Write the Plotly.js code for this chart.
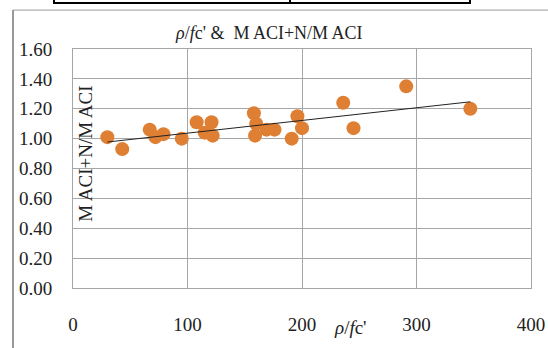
<!DOCTYPE html>
<html><head><meta charset="utf-8">
<script src="https://cdn.plot.ly/plotly-3.0.1.min.js"></script>
<style>html,body{margin:0;padding:0;background:#fff;}#c{width:548px;height:348px;}</style>
</head><body><div id="c"></div>
<script>
const xVals = [30, 43, 67, 72, 79, 95, 108, 115, 121, 122, 158, 160, 159, 169, 176, 191, 196, 200, 236, 245, 291, 347];
const yVals = [1.01, 0.93, 1.06, 1.01, 1.03, 1.00, 1.11, 1.04, 1.11, 1.02, 1.17, 1.10, 1.02, 1.06, 1.06, 1.00, 1.15, 1.07, 1.24, 1.07, 1.35, 1.20];
const yTicks = [0, 0.2, 0.4, 0.6, 0.8, 1.0, 1.2, 1.4, 1.6];
const yTickText = ["0.00","0.20","0.40","0.60","0.80","1.00","1.20","1.40","1.60"];
const xTicks = [0, 100, 200, 300, 400];
const chartTitle = "<i>ρ</i>/<i>f</i>c' &amp;  M ACI+N/M ACI";
const xTitle = "<i>ρ</i>/<i>f</i>c'";
const yTitle = "M ACI+N/M ACI";

// linear least-squares trendline from the data
const n = xVals.length;
const mx = xVals.reduce((a,b)=>a+b,0)/n, my = yVals.reduce((a,b)=>a+b,0)/n;
let sxy=0, sxx=0;
for(let i=0;i<n;i++){sxy+=(xVals[i]-mx)*(yVals[i]-my); sxx+=(xVals[i]-mx)**2;}
const slope = sxy/sxx, icpt = my - slope*mx;
const xMin = Math.min(...xVals), xMax = Math.max(...xVals);
const trendX = [xMin, xMax], trendY = trendX.map(x=>icpt+slope*x);

const serif = "Liberation Serif";
const fs = 19;
const data = [
 {x: xVals, y: yVals, type:'scatter', mode:'markers', marker:{color:'#DE7F33', size:14}, hoverinfo:'none'},
 {x: trendX, y: trendY, type:'scatter', mode:'lines', line:{color:'#222', width:1}, hoverinfo:'none'}
];
const L=73, R=531, T=49, B=288.5;
const px=(x)=>(x-L)/(R-L), py=(y)=>(B-y)/(B-T);
const layout = {
 width:548, height:348, showlegend:false,
 paper_bgcolor:'#fff', plot_bgcolor:'#fff',
 margin:{l:L, r:548-R, t:T, b:348-B},
 font:{family:serif, color:'#222', size:fs},
 xaxis:{range:[0,400], tickvals:xTicks, ticktext:xTicks.map(String), showgrid:true, gridcolor:'#a6a6a6', gridwidth:1,
   zeroline:false, showline:true, linecolor:'#a6a6a6', mirror:true, ticks:'', ticklabelstandoff:19, tickfont:{family:serif,size:fs,color:'#222'}},
 yaxis:{range:[0,1.6], tickvals:yTicks, ticktext:yTickText, showgrid:true, gridcolor:'#a6a6a6', gridwidth:1,
   zeroline:false, showline:true, linecolor:'#a6a6a6', mirror:true, ticks:'', ticklabelstandoff:16, tickfont:{family:serif,size:fs,color:'#222'}},
 annotations:[
  {text:chartTitle, xref:'paper', yref:'paper', x:px(269), y:py(33), xanchor:'center', yanchor:'middle', showarrow:false, font:{family:serif,size:18,color:'#222'}},
  {text:xTitle, xref:'paper', yref:'paper', x:px(350), y:py(328), xanchor:'center', yanchor:'middle', showarrow:false, font:{family:serif,size:fs,color:'#222'}},
  {text:yTitle, xref:'paper', yref:'paper', x:px(86), y:py(154), textangle:-90, xanchor:'center', yanchor:'middle', showarrow:false, font:{family:serif,size:fs,color:'#222'}}
 ],
 shapes:[
  {type:'line', xref:'paper', yref:'paper', x0:px(13), x1:px(13), y0:py(10), y1:py(360), line:{color:'#999', width:2}},
  {type:'line', xref:'paper', yref:'paper', x0:px(13), x1:px(560), y0:py(10), y1:py(10), line:{color:'#999', width:1}},
  {type:'rect', xref:'paper', yref:'paper', x0:px(54), x1:px(470), y0:py(-10), y1:py(3), line:{color:'#000', width:2}},
  {type:'line', xref:'paper', yref:'paper', x0:px(290), x1:px(290), y0:py(-10), y1:py(3), line:{color:'#000', width:2}}
 ]
};
Plotly.newPlot('c', data, layout, {staticPlot:true});
</script></body></html>
